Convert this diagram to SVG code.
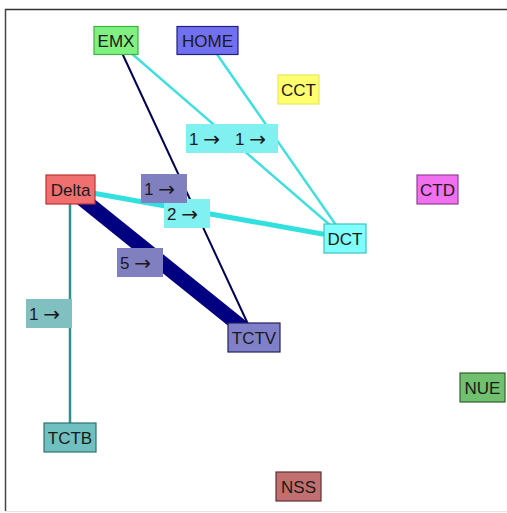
<svg xmlns="http://www.w3.org/2000/svg" width="507" height="513" viewBox="0 0 507 513">
<style>
text{font-family:"Liberation Sans",Arial,sans-serif;font-size:17px;fill:#1a1a1a;text-anchor:middle;dominant-baseline:central}
text.l{text-anchor:start}
.ar{font-family:"DejaVu Sans",sans-serif;font-size:20px}
.nb{stroke-width:1.2}
.lb{stroke:none}
.e{fill:none;stroke-linecap:butt}
</style>
<rect x="0" y="0" width="507" height="513" fill="#ffffff"/>
<g id="frame">
<line x1="5" y1="9.5" x2="507" y2="9.5" stroke="#333" stroke-width="1.5"/>
<line x1="5.5" y1="9" x2="5.5" y2="511" stroke="#444" stroke-width="1.5"/>
<line x1="5" y1="511.5" x2="507" y2="511.5" stroke="#e6e6e6" stroke-width="1"/>
</g>
<g id="connectors">
<line class="e" x1="116" y1="40" x2="345" y2="238" stroke="#44dede" stroke-width="2.5"/>
<line class="e" x1="207" y1="40" x2="345" y2="238" stroke="#44dede" stroke-width="2.5"/>
<line class="e" x1="70" y1="189" x2="345" y2="238" stroke="#33e0e0" stroke-width="5"/>
<line class="e" x1="70" y1="189" x2="254" y2="337" stroke="#000080" stroke-width="15"/>
<line class="e" x1="116" y1="40" x2="254" y2="337" stroke="#000050" stroke-width="2"/>
<line class="e" x1="70" y1="189" x2="70" y2="437" stroke="#2f8f8f" stroke-width="2.5"/>
</g>
<g id="edge-labels">
<g id="lbl-emx-dct"><rect class="lb" x="186" y="124" width="46" height="29" fill="#80f0f0"/><text class="l" x="189" y="139">1 <tspan class="ar">→</tspan></text></g>
<g id="lbl-home-dct"><rect class="lb" x="232" y="124" width="46" height="29" fill="#80f0f0"/><text class="l" x="235" y="139">1 <tspan class="ar">→</tspan></text></g>
<g id="lbl-delta-dct"><rect class="lb" x="164" y="199" width="46" height="29" fill="#80f0f0"/><text class="l" x="167" y="214">2 <tspan class="ar">→</tspan></text></g>
<g id="lbl-emx-tctv"><rect class="lb" x="141" y="174" width="46" height="29" fill="#8080c0"/><text class="l" x="144" y="189">1 <tspan class="ar">→</tspan></text></g>
<g id="lbl-delta-tctv"><rect class="lb" x="117" y="248" width="46" height="29" fill="#8080c0"/><text class="l" x="120" y="263">5 <tspan class="ar">→</tspan></text></g>
<g id="lbl-delta-tctb"><rect class="lb" x="26" y="299" width="46" height="29" fill="#80c0c0"/><text class="l" x="29" y="314">1 <tspan class="ar">→</tspan></text></g>
</g>
<g id="node-EMX"><rect class="nb" x="94" y="26.5" width="44" height="28" fill="#80f080" stroke="#40b040"/><text x="116" y="41" fill="#103010">EMX</text></g>
<g id="node-HOME"><rect class="nb" x="177" y="26.5" width="61" height="28" fill="#7070f0" stroke="#202080"/><text x="207.5" y="41" fill="#101040">HOME</text></g>
<g id="node-CCT"><rect class="nb" x="278" y="75" width="41" height="29" fill="#ffff70" stroke="#e8e860"/><text x="298.5" y="90">CCT</text></g>
<g id="node-CTD"><rect class="nb" x="417" y="175" width="41" height="29" fill="#f070f0" stroke="#904090"/><text x="437.5" y="190" fill="#301030">CTD</text></g>
<g id="node-Delta"><rect class="nb" x="46" y="175" width="49" height="29" fill="#f07070" stroke="#c03030"/><text x="70.5" y="190" fill="#400000">Delta</text></g>
<g id="node-DCT"><rect class="nb" x="324" y="224" width="42" height="29" fill="#80ffff" stroke="#40c0c0"/><text x="345" y="239" fill="#102020">DCT</text></g>
<g id="node-TCTV"><rect class="nb" x="228" y="323" width="52" height="29" fill="#8080c8" stroke="#202060"/><text x="254" y="338" fill="#101030">TCTV</text></g>
<g id="node-TCTB"><rect class="nb" x="44" y="423" width="52" height="29" fill="#70c0c0" stroke="#307070"/><text x="70" y="438" fill="#102020">TCTB</text></g>
<g id="node-NUE"><rect class="nb" x="460" y="373" width="45" height="29" fill="#70c070" stroke="#306030"/><text x="482.5" y="388" fill="#102010">NUE</text></g>
<g id="node-NSS"><rect class="nb" x="276" y="472" width="45" height="29" fill="#c07070" stroke="#603030"/><text x="298.5" y="487" fill="#301010">NSS</text></g>
</svg>
